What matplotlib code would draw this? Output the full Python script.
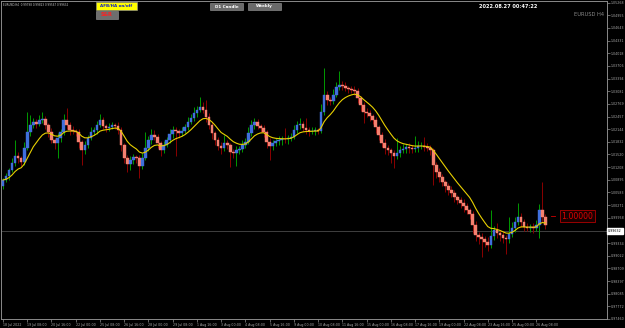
import matplotlib
matplotlib.use("Agg")
import matplotlib.pyplot as plt
from matplotlib.patches import Rectangle
import numpy as np
import pandas as pd

# EURUSD H4, 18 Jul 2022 00:00 .. 26 Aug 2022 20:00 (180 bars)
first_open = 1.00743
closes = [
 1.00891, 1.00989, 1.01137, 1.01310, 1.01483, 1.01434, 1.01335, 1.01680, 1.02075, 1.02248,
 1.02322, 1.02273, 1.02371, 1.02396, 1.02248, 1.02075, 1.01878, 1.01804, 1.01927, 1.02075,
 1.02371, 1.02248, 1.02125, 1.02100, 1.02075, 1.01828, 1.01631, 1.01754, 1.01927, 1.02075,
 1.02125, 1.02248, 1.02371, 1.02223, 1.02174, 1.02199, 1.02248, 1.02223, 1.02125, 1.01754,
 1.01434, 1.01286, 1.01384, 1.01458, 1.01434, 1.01236, 1.01434, 1.01680, 1.01878, 1.02001,
 1.01952, 1.01804, 1.01631, 1.01754, 1.01878, 1.02026, 1.02125, 1.02100, 1.02051, 1.02100,
 1.02199, 1.02322, 1.02421, 1.02544, 1.02618, 1.02692, 1.02618, 1.02445, 1.02248, 1.02051,
 1.01878, 1.01730, 1.01680, 1.01804, 1.01754, 1.01582, 1.01560, 1.01631, 1.01656, 1.01754,
 1.01828, 1.02051, 1.02248, 1.02322, 1.02223, 1.02174, 1.02075, 1.01828, 1.01730, 1.01804,
 1.01853, 1.01878, 1.01903, 1.01890, 1.01927, 1.01952, 1.02125, 1.02248, 1.02273, 1.02174,
 1.02125, 1.02100, 1.02110, 1.02125, 1.02100, 1.02569, 1.02988, 1.02865, 1.02840, 1.02988,
 1.03186, 1.03235, 1.03220, 1.03161, 1.03136, 1.03112, 1.03087, 1.02914, 1.02742, 1.02569,
 1.02544, 1.02470, 1.02371, 1.02199, 1.02001, 1.01804, 1.01680, 1.01631, 1.01557, 1.01483,
 1.01557, 1.01631, 1.01656, 1.01705, 1.01680, 1.01656, 1.01680, 1.01730, 1.01740, 1.01705,
 1.01680, 1.01631, 1.01261, 1.01088, 1.00965, 1.00841, 1.00743, 1.00644, 1.00570, 1.00471,
 1.00397, 1.00323, 1.00249, 1.00150, 1.00052, 0.99780, 0.99533, 0.99484, 0.99435, 0.99360,
 0.99286, 0.99509, 0.99657, 0.99583, 0.99533, 0.99459, 0.99440, 0.99558, 0.99706, 0.99854,
 0.99977, 0.99854, 0.99731, 0.99706, 0.99731, 0.99706, 0.99780, 1.00150, 0.99977, 0.99780,
]
# wick lengths above / below the body, in pips
upper_wick = [
 6, 8, 5, 12, 40, 10, 6, 14, 49, 25,
 10, 8, 12, 17, 8, 6, 10, 6, 12, 8,
 15, 30, 8, 10, 6, 8, 6, 10, 8, 12,
 8, 10, 14, 8, 6, 10, 8, 6, 10, 8,
 6, 8, 10, 8, 6, 8, 12, 40, 10, 14,
 12, 8, 6, 10, 8, 12, 10, 8, 6, 10,
 8, 12, 10, 14, 10, 25, 12, 25, 10, 8,
 6, 8, 10, 20, 8, 6, 8, 10, 8, 12,
 10, 14, 12, 10, 8, 6, 8, 6, 10, 8,
 8, 10, 8, 27, 8, 10, 12, 10, 15, 8,
 25, 8, 10, 8, 6, 20, 67, 10, 8, 14,
 12, 35, 10, 8, 6, 8, 10, 8, 6, 8,
 10, 8, 6, 8, 6, 8, 10, 8, 6, 8,
 37, 10, 12, 8, 10, 8, 30, 12, 8, 22,
 10, 8, 6, 8, 10, 8, 6, 8, 10, 8,
 6, 8, 10, 8, 6, 8, 10, 8, 10, 8,
 12, 64, 10, 17, 8, 10, 8, 42, 14, 12,
 35, 10, 8, 10, 8, 10, 12, 14, 69, 8,
]
lower_wick = [
 8, 6, 10, 6, 8, 12, 10, 8, 6, 10,
 8, 10, 6, 8, 10, 12, 8, 14, 37, 10,
 8, 10, 12, 8, 10, 14, 37, 10, 8, 6,
 8, 10, 6, 8, 10, 8, 6, 8, 10, 14,
 12, 20, 14, 10, 12, 30, 8, 6, 8, 10,
 8, 12, 14, 8, 6, 8, 10, 62, 12, 8,
 6, 8, 6, 8, 10, 6, 8, 12, 10, 14,
 12, 10, 14, 8, 10, 37, 12, 32, 10, 8,
 8, 6, 8, 10, 8, 10, 12, 14, 35, 10,
 8, 10, 12, 8, 10, 8, 6, 8, 10, 8,
 10, 12, 8, 10, 8, 6, 8, 12, 10, 8,
 6, 8, 10, 8, 10, 8, 10, 12, 14, 27,
 10, 12, 10, 14, 12, 10, 14, 12, 25, 30,
 8, 10, 8, 10, 12, 10, 8, 10, 8, 10,
 8, 12, 49, 14, 12, 10, 14, 12, 10, 12,
 10, 12, 14, 10, 12, 20, 14, 18, 44, 12,
 14, 8, 10, 12, 14, 12, 37, 10, 8, 10,
 8, 12, 10, 8, 10, 12, 8, 32, 12, 10,
]
date_labels = ["18 Jul 2022", "19 Jul 08:00", "20 Jul 16:00", "22 Jul 00:00", "25 Jul 08:00",
               "26 Jul 16:00", "28 Jul 00:00", "29 Jul 08:00", "1 Aug 16:00", "3 Aug 00:00",
               "4 Aug 08:00", "5 Aug 16:00", "9 Aug 00:00", "10 Aug 08:00", "11 Aug 16:00",
               "15 Aug 00:00", "16 Aug 08:00", "17 Aug 16:00", "19 Aug 00:00", "22 Aug 08:00",
               "23 Aug 16:00", "25 Aug 00:00", "26 Aug 08:00"]
bars_per_label = 8
last_price = 0.99632
parity_level = 1.00000
header = "EURUSD,H4  0.99798 0.99823 0.99567 0.99632"
clock = "2022.08.27 00:47:22"

W, H = 625, 328
fig = plt.figure(figsize=(W / 100, H / 100), dpi=100, facecolor="black")
ax = fig.add_axes([1 / W, 9 / H, 606 / W, 318 / H], facecolor="black")

c = np.array(closes)
o = np.r_[first_open, c[:-1]]
hi = np.maximum(o, c) + np.array(upper_wick) * 1e-4
lo = np.minimum(o, c) - np.array(lower_wick) * 1e-4
x = np.arange(len(c))
up = c >= o

# wicks first, bodies over them
ax.vlines(x, lo, hi, colors=np.where(up, "#009a00", "#8b0000"), linewidth=0.7, zorder=2)
ax.bar(x, c - o, bottom=o, width=0.86, color=np.where(up, "#3f6fdc", "#f5806f"),
       edgecolor=np.where(up, "#3f6fdc", "#f5806f"), linewidth=0.3, zorder=3)

ma = pd.Series(c).ewm(span=10, adjust=False).mean()
ax.plot(x, ma, color="#e8d000", linewidth=0.8, zorder=4)

ax.axhline(last_price, color="#4a4a4a", linewidth=0.6, zorder=1)

ax.set_xlim(-0.66, 199.34)
ax.set_ylim(0.9746, 1.05308)

# price scale (label under the last-price tag left out)
yt = 0.9746 + 0.003123 * np.arange(26)
ax.yaxis.tick_right()
ax.set_yticks(yt)
ax.set_yticklabels(["" if abs(v - last_price) < 0.001 else "%.5f" % v for v in yt])
ax.tick_params(axis="y", colors="#909090", labelcolor="#a8a8a8", labelsize=2.3,
               length=2, width=0.5, pad=0.8)
xt = np.arange(0, len(c), bars_per_label)
ax.set_xticks(xt)
ax.set_xticklabels(date_labels, ha="left")
ax.tick_params(axis="x", colors="#909090", labelcolor="#a8a8a8", labelsize=2.3,
               length=2, width=0.5, pad=1)
for s in ax.spines.values():
    s.set_color("#8a8a8a")
    s.set_linewidth(0.7)

ax.text(1.002, last_price, "%.5f" % last_price, transform=ax.get_yaxis_transform(),
        fontsize=2.3, color="black", va="center", ha="left", zorder=10,
        bbox=dict(boxstyle="square,pad=0.25", fc="white", ec="white"))

# parity marker
ax.plot([180.7, 182.2], [parity_level, parity_level], color="#d00000", linewidth=0.6,
        zorder=5, clip_on=False)
ax.text(189.5, parity_level, "%.5f" % parity_level, fontsize=5.6, color="#e00000",
        va="center", ha="center", zorder=6,
        bbox=dict(boxstyle="square,pad=0.2", fc="#1a0000", ec="#b00000", lw=0.6))

# header / buttons
def px(xp, yp):
    return xp / W, 1 - yp / H

fig.text(*px(3, 4.5), header, fontsize=2.0, color="#c8c8c8", va="center", ha="left")

def button(x0, y0, x1, y1, label, fc, tc, fs):
    fig.add_artist(Rectangle(px(x0, y1), (x1 - x0) / W, (y1 - y0) / H,
                             transform=fig.transFigure, facecolor=fc,
                             edgecolor="#9a9a9a", linewidth=0.4))
    fig.text(*px((x0 + x1) / 2, (y0 + y1) / 2), label, fontsize=fs, color=tc,
             fontweight="bold", ha="center", va="center")

button(96, 2, 137, 10, "AFB/HA on/off", "#ffff00", "#1020c0", 3.0)
button(96, 11, 118, 19, "S&R", "#6e6e6e", "#ff2020", 3.6)
button(210, 3, 243, 10, "D1 Candle", "#6a6a6a", "white", 3.0)
button(248, 3, 281, 10, "Weekly", "#6a6a6a", "white", 3.0)

fig.text(*px(508, 6), clock, fontsize=3.6, color="white", fontweight="bold",
         ha="center", va="center")
fig.text(*px(589, 15), "EURUSD H4", fontsize=3.7, color="#8a8a8a", ha="center", va="center")

fig.savefig("out.png", dpi=100, facecolor="black")
